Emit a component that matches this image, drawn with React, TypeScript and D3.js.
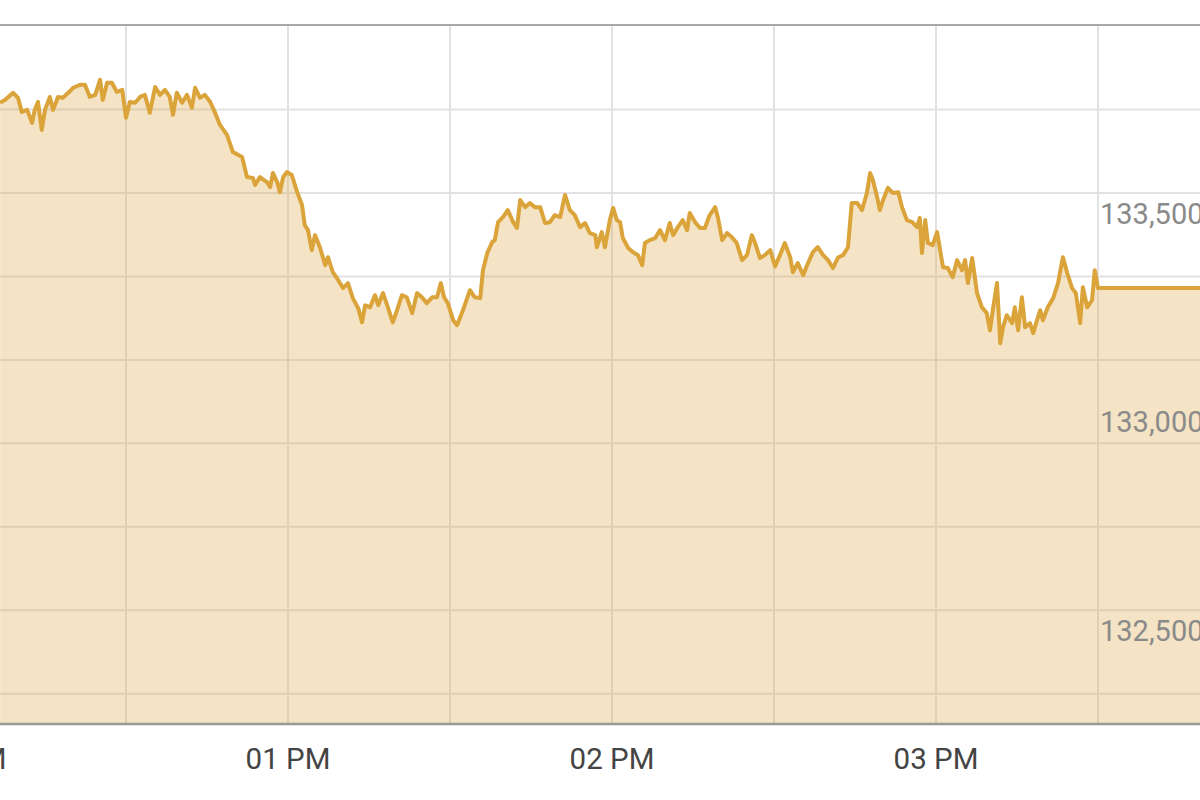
import React from 'react';
import * as d3 from 'd3';

// minutes after 12:00 noon
const minutesAfterNoon = [
  6.7, 7.6, 9.1, 10.0, 10.7, 11.7, 12.6, 13.1, 13.7, 14.4, 15.0, 15.9, 16.5, 17.4, 18.3, 19.3, 20.2, 21.5, 22.4, 23.3,
  24.3, 25.2, 25.7, 26.5, 27.4, 28.3, 29.3, 30.0, 30.7, 31.7, 32.6, 33.5, 34.4, 35.4, 36.3, 37.2, 38.1, 38.7, 39.4, 40.4,
  41.3, 42.2, 42.8, 43.7, 44.6, 45.6, 46.5, 47.4, 48.7, 49.8, 51.5, 52.4, 53.5, 53.9, 54.8, 56.1, 56.7, 57.2, 58.0, 58.5,
  59.1, 59.8, 60.7, 61.7, 62.6, 63.1, 63.7, 64.4, 65.0, 65.9, 66.9, 67.4, 68.3, 69.3, 70.2, 71.1, 72.0, 73.0, 73.7, 74.3,
  75.2, 76.1, 76.7, 77.6, 78.5, 79.4, 80.2, 81.1, 82.0, 83.0, 83.9, 84.8, 85.7, 86.7, 87.6, 88.3, 88.9, 89.6, 90.6, 91.3,
  92.4, 93.7, 94.6, 95.6, 96.1, 96.9, 97.8, 98.3, 98.9, 99.8, 100.7, 101.7, 102.4, 103.0, 103.9, 104.8, 105.7, 106.7, 107.6, 108.5,
  109.4, 110.4, 111.3, 112.2, 113.1, 114.1, 115.0, 115.9, 116.9, 117.2, 118.1, 118.7, 119.6, 120.2, 120.9, 121.5, 122.0, 123.0, 123.9, 124.8,
  125.6, 126.1, 127.0, 128.0, 128.9, 129.8, 130.7, 131.3, 132.2, 133.1, 133.9, 134.4, 135.4, 136.3, 137.2, 138.1, 139.1, 139.6, 140.4, 141.3,
  142.2, 143.1, 144.1, 145.0, 145.9, 146.5, 147.4, 148.3, 149.3, 150.2, 151.1, 152.0, 153.0, 153.5, 154.4, 155.4, 156.3, 157.2, 158.1, 159.1,
  160.0, 160.9, 161.9, 162.8, 163.7, 164.4, 165.4, 166.3, 167.2, 167.8, 168.3, 169.1, 169.6, 170.2, 171.1, 172.0, 173.0, 173.7, 174.6, 175.6,
  176.5, 177.0, 177.4, 178.0, 178.5, 179.4, 180.2, 180.7, 181.3, 182.2, 183.1, 183.9, 184.8, 185.4, 185.9, 186.7, 187.6, 188.5, 189.4, 190.0,
  190.6, 191.3, 191.9, 192.4, 193.1, 194.1, 194.6, 195.2, 195.9, 196.5, 197.4, 198.0, 198.7, 199.3, 199.8, 200.7, 201.7, 202.6, 203.5, 204.3,
  205.2, 205.9, 206.7, 207.2, 208.0, 208.9, 209.4, 210.0,
];

const prices = [
  133816, 133823, 133840, 133828, 133794, 133799, 133768, 133799, 133818, 133751, 133799, 133830, 133799, 133830, 133828, 133840, 133852, 133859, 133859, 133830,
  133835, 133871, 133823, 133864, 133864, 133842, 133847, 133780, 133818, 133816, 133830, 133835, 133792, 133854, 133835, 133847, 133830, 133787, 133840, 133816,
  133835, 133804, 133852, 133828, 133835, 133818, 133792, 133763, 133739, 133698, 133686, 133638, 133636, 133619, 133638, 133626, 133614, 133648, 133626, 133602,
  133638, 133650, 133643, 133602, 133571, 133523, 133511, 133463, 133499, 133470, 133427, 133446, 133410, 133391, 133372, 133384, 133348, 133324, 133290, 133331,
  133326, 133355, 133331, 133360, 133326, 133290, 133319, 133355, 133350, 133312, 133360, 133350, 133336, 133350, 133350, 133384, 133350, 133336, 133295, 133283,
  133319, 133367, 133350, 133348, 133415, 133456, 133482, 133487, 133530, 133542, 133559, 133530, 133516, 133583, 133566, 133576, 133566, 133566, 133528, 133530,
  133547, 133542, 133595, 133559, 133547, 133518, 133528, 133504, 133499, 133470, 133506, 133470, 133535, 133564, 133535, 133530, 133492, 133468, 133458, 133451,
  133427, 133480, 133487, 133492, 133511, 133487, 133528, 133499, 133518, 133535, 133511, 133552, 133530, 133516, 133516, 133547, 133566, 133542, 133487, 133504,
  133494, 133480, 133439, 133451, 133499, 133480, 133444, 133451, 133463, 133424, 133451, 133480, 133446, 133410, 133432, 133403, 133432, 133458, 133470, 133451,
  133439, 133420, 133446, 133451, 133470, 133576, 133576, 133559, 133600, 133648, 133631, 133590, 133559, 133583, 133612, 133600, 133602, 133566, 133535, 133530,
  133518, 133540, 133456, 133535, 133480, 133475, 133506, 133468, 133422, 133420, 133398, 133439, 133415, 133439, 133384, 133444, 133360, 133326, 133312, 133271,
  133326, 133384, 133240, 133278, 133307, 133288, 133326, 133271, 133350, 133278, 133288, 133264, 133295, 133319, 133295, 133326, 133348, 133384, 133446, 133408,
  133372, 133360, 133288, 133374, 133326, 133343, 133415, 133372,
];

const gridPrices = [132400, 132600, 132800, 133000, 133200, 133400, 133600, 133800];
const labelPrices = [133500, 133000, 132500];
const hourTickMinutes = [0, 60, 120, 180];
const hourTickLabels = ['12 PM', '01 PM', '02 PM', '03 PM'];
const halfHourGridMinutes = [30, 60, 90, 120, 150, 180, 210];

const W = 1200;
const H = 800;
const TOP = 26;
const BOTTOM = 723;

export default function App() {
  const base = new Date(2024, 0, 2, 12, 0, 0).getTime();
  const toDate = (m: number) => new Date(base + m * 60000);

  const x = d3.scaleTime().domain([toDate(0), toDate(240)]).range([-36, 1260]);
  const y = d3.scaleLinear().domain([132330, 134000]).range([BOTTOM, TOP]);

  const data = minutesAfterNoon.map((m, i) => ({ t: toDate(m), v: prices[i] }));
  const last = data[data.length - 1];
  const extended = [...data, { t: x.invert(W + 10), v: last.v }];

  const line = d3.line<{ t: Date; v: number }>().x(d => x(d.t)).y(d => y(d.v));
  const area = d3
    .area<{ t: Date; v: number }>()
    .x(d => x(d.t))
    .y0(BOTTOM)
    .y1(d => y(d.v));

  const fmt = d3.format(',');
  const font = 'Roboto, "Noto Sans", Arial, sans-serif';

  return (
    <svg width={W} height={H} style={{ position: 'absolute', left: 0, top: 0, background: '#fff' }}>
      <defs>
        <clipPath id="plot">
          <rect x={0} y={TOP} width={W} height={BOTTOM - TOP} />
        </clipPath>
      </defs>
      <rect x={0} y={0} width={W} height={H} fill="#fff" />
      {gridPrices.map(p => (
        <line key={p} x1={0} x2={W} y1={y(p)} y2={y(p)} stroke="#e2e2e2" strokeWidth={2} />
      ))}
      {halfHourGridMinutes.map(m => (
        <line key={m} x1={x(toDate(m))} x2={x(toDate(m))} y1={TOP} y2={BOTTOM} stroke="#e2e2e2" strokeWidth={2} />
      ))}
      <g clipPath="url(#plot)">
        <path d={area(extended) || ''} fill="#d9a23a" fillOpacity={0.3} />
        <path d={line(extended) || ''} fill="none" stroke="#dba43a" strokeWidth={4} strokeLinejoin="round" />
      </g>
      <line x1={0} x2={W} y1={TOP - 1} y2={TOP - 1} stroke="#a8a8a8" strokeWidth={2} />
      <line x1={0} x2={W} y1={BOTTOM + 1} y2={BOTTOM + 1} stroke="#999" strokeWidth={2.5} />
      {labelPrices.map(p => (
        <text key={p} x={1100} y={y(p) - 11} fill="#8a8a8a" fontSize={29} fontFamily={font}>
          {fmt(p)}
        </text>
      ))}
      {hourTickMinutes.map((m, i) => (
        <text key={m} x={x(toDate(m))} y={769} fill="#444" fontSize={29.5} fontFamily={font} textAnchor="middle">
          {hourTickLabels[i]}
        </text>
      ))}
    </svg>
  );
}
